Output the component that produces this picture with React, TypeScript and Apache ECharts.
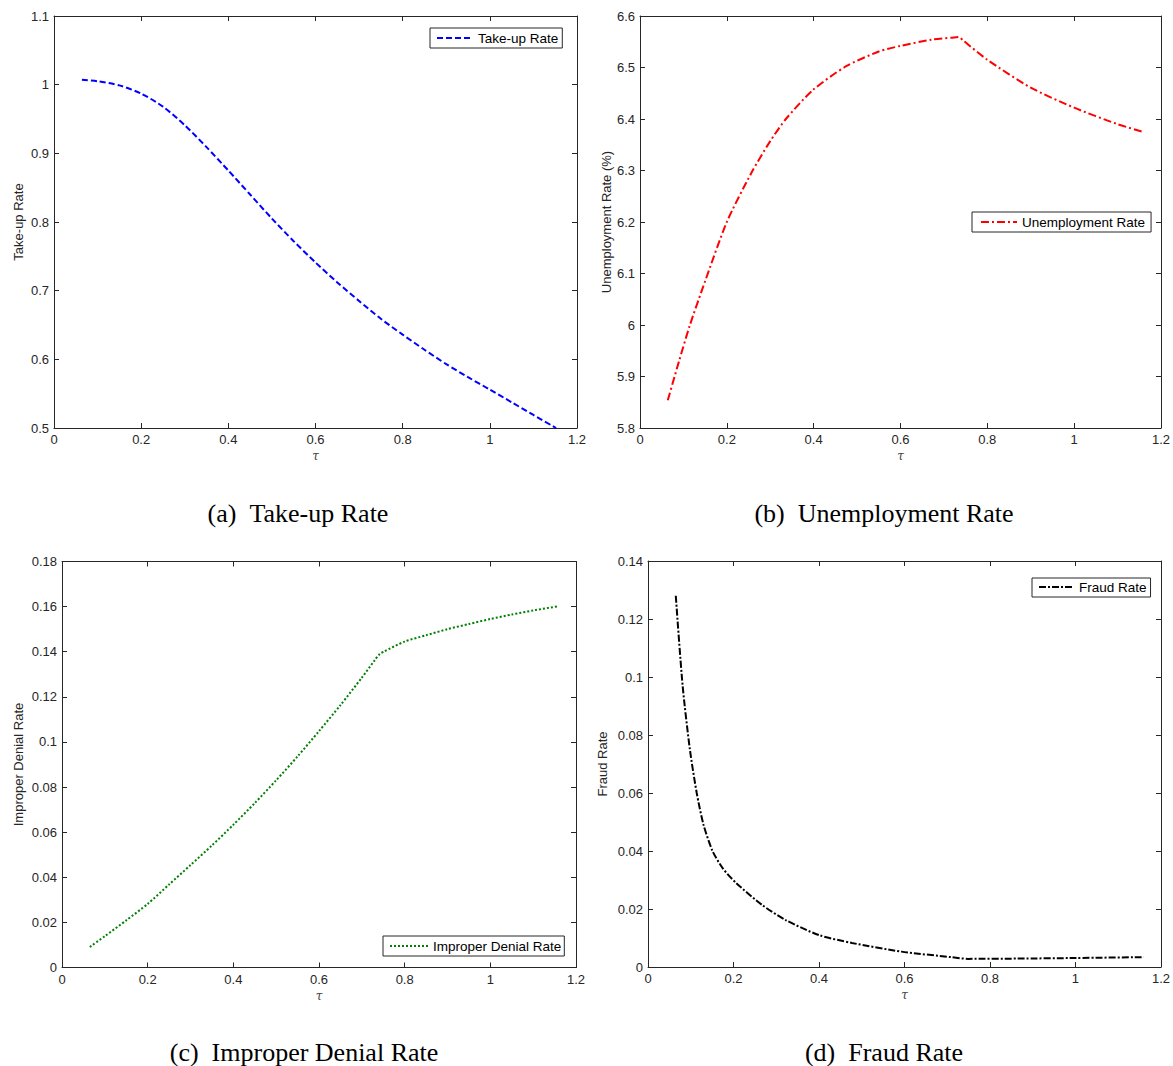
import React, { useEffect, useRef } from "react";
import * as echarts from "echarts";

// ---- Data ----
const xTicks = { min: 0, max: 1.2, interval: 0.2 };

const tauA = [0.064, 0.1, 0.15, 0.2, 0.25, 0.3, 0.35, 0.4, 0.45, 0.5, 0.55, 0.6, 0.65, 0.7, 0.75, 0.8, 0.85, 0.9, 0.95, 1.0, 1.05, 1.1, 1.152];
const takeUpRate = [1.007, 1.005, 0.999, 0.987, 0.968, 0.941, 0.909, 0.875, 0.84, 0.805, 0.772, 0.741, 0.712, 0.685, 0.659, 0.636, 0.614, 0.593, 0.574, 0.556, 0.5375, 0.519, 0.5];

const tauB = [0.064, 0.09, 0.115, 0.15, 0.2, 0.257, 0.3, 0.336, 0.398, 0.474, 0.55, 0.6, 0.672, 0.72, 0.734, 0.745, 0.8, 0.9, 1.0, 1.1, 1.158];
const unemploymentRate = [5.854, 5.93, 6.0, 6.085, 6.2, 6.296, 6.357, 6.4, 6.456, 6.502, 6.531, 6.542, 6.554, 6.558, 6.559, 6.552, 6.515, 6.461, 6.422, 6.39, 6.375];

const tauC = [0.065, 0.1, 0.15, 0.2, 0.25, 0.3, 0.35, 0.4, 0.45, 0.5, 0.55, 0.6, 0.65, 0.7, 0.73, 0.742, 0.752, 0.8, 0.85, 0.9, 0.95, 1.0, 1.05, 1.1, 1.16];
const improperDenialRate = [0.0091, 0.0139, 0.0209, 0.0282, 0.0368, 0.0454, 0.0541, 0.0633, 0.0729, 0.083, 0.0936, 0.1048, 0.1163, 0.1285, 0.1362, 0.139, 0.1401, 0.1445, 0.1473, 0.15, 0.1523, 0.1545, 0.1565, 0.1583, 0.1602];

const tauD = [0.065, 0.081, 0.098, 0.114, 0.13, 0.151, 0.175, 0.206, 0.267, 0.322, 0.4, 0.477, 0.593, 0.709, 0.749, 0.865, 1.0, 1.16];
const fraudRate = [0.128, 0.097, 0.075, 0.06, 0.049, 0.04, 0.034, 0.029, 0.0214, 0.0162, 0.011, 0.0083, 0.0053, 0.0034, 0.0028, 0.0029, 0.0031, 0.0034];

const yRanges = [
  { min: 0.5, max: 1.1, interval: 0.1 },
  { min: 5.8, max: 6.6, interval: 0.1 },
  { min: 0, max: 0.18, interval: 0.02 },
  { min: 0, max: 0.14, interval: 0.02 },
];
const seriesNames = ["Take-up Rate", "Unemployment Rate", "Improper Denial Rate", "Fraud Rate"];
const yNames = ["Take-up Rate", "Unemployment Rate (%)", "Improper Denial Rate", "Fraud Rate"];
const captions = ["(a)\u2002Take-up Rate", "(b)\u2002Unemployment Rate", "(c)\u2002Improper Denial Rate", "(d)\u2002Fraud Rate"];

const pairs = (xs: number[], ys: number[]) => xs.map((x, i) => [x, ys[i]]);
const seriesData = [
  pairs(tauA, takeUpRate),
  pairs(tauB, unemploymentRate),
  pairs(tauC, improperDenialRate),
  pairs(tauD, fraudRate),
];

// ---- Layout / style ----
const grids = [
  { left: 54, top: 16, width: 523, height: 412 },
  { left: 640, top: 16, width: 523, height: 412 },
  { left: 62, top: 561.5, width: 514, height: 406 },
  { left: 648, top: 561, width: 516, height: 406 },
];
const colors = ["#0000ff", "#ff0000", "#008000", "#000000"];
const dashes = [[6, 3], [8, 3, 2, 3], [2, 2], [7, 2, 2, 2]];
const yNameGaps = [29, 27, 37, 39];
const legendPos = [
  { left: 430, top: 28, itemWidth: 36, padding: [3, 4, 3, 6] },
  { left: 972, top: 212, itemWidth: 36, padding: [3, 6, 3, 8] },
  { left: 383, top: 936, itemWidth: 38, padding: [3, 3, 3, 6] },
  { left: 1032, top: 578, itemWidth: 35, padding: [2, 4, 3, 6] },
];
const captionPos = [
  { x: 298, y: 513 },
  { x: 884, y: 513 },
  { x: 304, y: 1052 },
  { x: 884, y: 1052 },
];

const AX = "#262626";
const SANS = "'Liberation Sans', Arial, Helvetica, sans-serif";

export default function App() {
  const ref = useRef<HTMLDivElement>(null);
  useEffect(() => {
    if (!ref.current) return;
    const chart = echarts.init(ref.current, undefined, { renderer: "svg" });

    const xAxis: any[] = [];
    const yAxis: any[] = [];
    grids.forEach((_, i) => {
      const common = {
        type: "value",
        gridIndex: i,
        min: xTicks.min,
        max: xTicks.max,
        interval: xTicks.interval,
        splitLine: { show: false },
        axisLine: { show: true, onZero: false, lineStyle: { color: AX, width: 1 } },
        axisTick: { show: true, inside: true, length: 5, lineStyle: { color: AX } },
      };
      xAxis.push({
        ...common,
        position: "bottom",
        axisLabel: { show: true, margin: 5, fontSize: 13, color: AX, fontFamily: SANS },
        name: "τ",
        nameLocation: "middle",
        nameGap: 22,
        nameTextStyle: { fontStyle: "italic", fontSize: 12, color: "#444", fontFamily: "'DejaVu Serif', serif" },
      });
      xAxis.push({ ...common, position: "top", axisLabel: { show: false } });

      const yr = yRanges[i];
      const ycommon = {
        type: "value",
        gridIndex: i,
        min: yr.min,
        max: yr.max,
        interval: yr.interval,
        splitLine: { show: false },
        axisLine: { show: true, onZero: false, lineStyle: { color: AX, width: 1 } },
        axisTick: { show: true, inside: true, length: 5, lineStyle: { color: AX } },
      };
      yAxis.push({
        ...ycommon,
        position: "left",
        axisLabel: { show: true, margin: 5, fontSize: 13, color: AX, fontFamily: SANS },
        name: yNames[i],
        nameLocation: "middle",
        nameGap: yNameGaps[i],
        nameTextStyle: { fontSize: 13, color: AX, fontFamily: SANS },
      });
      yAxis.push({ ...ycommon, position: "right", axisLabel: { show: false } });
    });

    const series = seriesData.map((d, i) => ({
      type: "line",
      name: seriesNames[i],
      xAxisIndex: 2 * i,
      yAxisIndex: 2 * i,
      data: d,
      symbol: "none",
      smooth: 0.25,
      lineStyle: { color: colors[i], width: 2, type: dashes[i] },
      itemStyle: { color: colors[i] },
    }));

    const legend = legendPos.map((p, i) => ({
      data: [seriesNames[i]],
      left: p.left,
      top: p.top,
      orient: "horizontal",
      padding: p.padding,
      itemWidth: p.itemWidth,
      itemHeight: 14,
      itemGap: 0,
      borderColor: AX,
      borderWidth: 1,
      borderRadius: 0,
      backgroundColor: "#ffffff",
      selectedMode: false,
      itemStyle: { opacity: 0 },
      textStyle: { fontSize: 13.5, color: "#000", fontFamily: SANS, lineHeight: 14 },
    }));

    const graphic = captions.map((c, i) => ({
      type: "text",
      x: captionPos[i].x,
      y: captionPos[i].y,
      style: {
        text: c,
        textAlign: "center",
        textVerticalAlign: "middle",
        fontSize: 26,
        fontFamily: "'Liberation Serif', 'Times New Roman', serif",
        fill: "#000",
      },
    }));

    chart.setOption({
      animation: false,
      backgroundColor: "#ffffff",
      grid: grids.map((g) => ({ ...g, containLabel: false })),
      xAxis,
      yAxis,
      series,
      legend,
      graphic,
    });
    return () => chart.dispose();
  }, []);
  return (
    <div
      ref={ref}
      style={{ position: "absolute", left: 0, top: 0, width: 1173, height: 1066, background: "#fff" }}
    />
  );
}
